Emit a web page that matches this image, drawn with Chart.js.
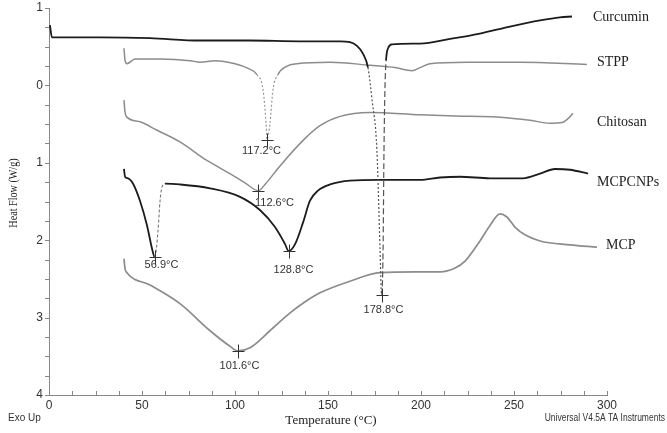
<!DOCTYPE html>
<html>
<head>
<meta charset="utf-8">
<script src="https://cdn.jsdelivr.net/npm/chart.js@4"></script>
<style>
  html, body { margin: 0; padding: 0; background: #fff; }
  #wrap { width: 667px; height: 433px; position: relative; }
</style>
</head>
<body>
<div id="wrap"><canvas id="c"></canvas></div>
<script>
// ---- data (Temperature °C, Heat Flow W/g) ----
const seriesNames = ['Curcumin', 'STPP', 'Chitosan', 'MCPCNPs', 'MCP'];

const curcuminT  = [0.5, 1.6, 5.9, 27.4, 54.3, 81.2, 108.1, 134.9, 156.5, 161.8, 165.6, 168.8, 171.5, 173.7, 176.3, 178.0, 178.8, 179.6, 180.1, 180.6, 181.2, 182.3, 184.4, 199.5, 215.6, 231.7, 247.8, 264.0, 274.7, 281.2];
const curcuminHF = [-0.78, -0.62, -0.62, -0.62, -0.61, -0.58, -0.58, -0.57, -0.57, -0.56, -0.51, -0.41, -0.23, 0.19, 0.84, 2.14, 2.71, 2.14, 0.84, 0.06, -0.32, -0.48, -0.53, -0.54, -0.60, -0.67, -0.76, -0.84, -0.88, -0.89];

const stppT  = [40.3, 40.9, 41.9, 46.2, 59.7, 75.8, 81.2, 89.2, 100.0, 107.0, 111.8, 115.1, 116.7, 117.2, 118.8, 120.4, 123.1, 128.0, 133.3, 151.1, 172.6, 186.0, 195.2, 199.5, 204.8, 224.7, 253.2, 289.2];
const stppHF = [-0.48, -0.32, -0.28, -0.34, -0.34, -0.32, -0.30, -0.32, -0.28, -0.22, -0.14, 0.06, 0.49, 0.70, 0.49, 0.06, -0.14, -0.25, -0.28, -0.30, -0.26, -0.23, -0.19, -0.23, -0.28, -0.30, -0.30, -0.27];

const chitosanT  = [40.3, 40.9, 41.9, 48.9, 58.1, 70.4, 84.9, 97.3, 105.4, 112.6, 116.1, 124.2, 136.6, 145.7, 156.5, 172.6, 199.5, 226.3, 242.5, 258.6, 269.4, 275.8, 279.0, 281.7];
const chitosanHF = [0.19, 0.35, 0.41, 0.47, 0.58, 0.73, 0.97, 1.14, 1.26, 1.36, 1.28, 1.04, 0.71, 0.52, 0.40, 0.35, 0.38, 0.40, 0.41, 0.45, 0.49, 0.48, 0.43, 0.36];

const mcpcnpsT  = [40.3, 40.9, 42.5, 45.2, 48.9, 52.7, 55.4, 56.9, 58.6, 59.7, 60.8, 62.4, 70.4, 86.6, 102.7, 113.4, 121.5, 126.9, 128.8, 132.3, 136.6, 140.3, 144.6, 151.1, 161.8, 178.0, 199.5, 210.2, 221.0, 237.1, 254.8, 264.0, 272.0, 280.1, 289.8];
const mcpcnpsHF = [1.08, 1.18, 1.20, 1.27, 1.49, 1.81, 2.11, 2.22, 1.88, 1.49, 1.31, 1.27, 1.28, 1.33, 1.44, 1.61, 1.83, 2.05, 2.14, 2.05, 1.77, 1.49, 1.36, 1.28, 1.23, 1.22, 1.22, 1.19, 1.18, 1.20, 1.20, 1.14, 1.08, 1.09, 1.14];

const mcpT  = [40.3, 40.9, 41.9, 54.3, 70.4, 86.6, 97.3, 101.6, 108.1, 118.8, 129.6, 138.7, 145.7, 161.8, 178.0, 197.8, 210.2, 218.3, 223.7, 231.7, 237.1, 242.5, 246.2, 250.5, 255.9, 264.0, 280.1, 294.6];
const mcpHF = [2.24, 2.37, 2.42, 2.58, 2.82, 3.17, 3.37, 3.43, 3.39, 3.17, 2.94, 2.78, 2.68, 2.53, 2.42, 2.41, 2.41, 2.36, 2.27, 2.01, 1.81, 1.66, 1.70, 1.83, 1.93, 2.01, 2.06, 2.09];

// peak annotations (Temperature, Heat Flow)
const peakT  = [117.2, 112.6, 56.9, 128.8, 178.8, 101.6];
const peakHF = [0.70, 1.36, 2.22, 2.14, 2.71, 3.43];

// axis ticks
const xTicks = [0, 50, 100, 150, 200, 250, 300];
const yTicks = [-1, 0, 1, 2, 3, 4];
const yTickLabels = ['1', '0', '1', '2', '3', '4'];

// ---- styling / layout (not data) ----
const peakLabelOffset = [[-6, 10], [16, 11], [6, 7], [4, 18], [1, 14], [1, 14]];
const seriesLabelPos = [[593, 17], [597, 62], [597, 122], [597, 182], [606, 245]];
const colors = ['#1c1c1c', '#8c8c8c', '#8c8c8c', '#1c1c1c', '#8c8c8c'];
const widths = [1.8, 1.5, 1.5, 1.8, 1.7];
// [fromIndex, toIndex, dash, colour, width]
const dashRanges = [
  [[12, 16, [2, 2], '#555', 1.2], [16, 20, [6, 3], '#555', 1.2]],
  [[10, 16, [2, 2], '#999', 1.2]],
  [],
  [[7, 11, [3, 2], '#777', 1.1]],
  []
];

const allT = [curcuminT, stppT, chitosanT, mcpcnpsT, mcpT];
const allHF = [curcuminHF, stppHF, chitosanHF, mcpcnpsHF, mcpHF];

function segStyle(i, idx) {
  for (const r of dashRanges[i]) {
    if (idx >= r[0] && idx < r[1]) return r;
  }
  return null;
}

const datasets = seriesNames.map((name, i) => ({
  label: name,
  data: allT[i].map((t, k) => ({ x: t, y: allHF[i][k] })),
  showLine: true,
  borderColor: colors[i],
  borderWidth: widths[i],
  pointRadius: 0,
  fill: false,
  cubicInterpolationMode: 'monotone',
  segment: {
    borderDash: ctx => { const r = segStyle(i, ctx.p0DataIndex); return r ? r[2] : undefined; },
    borderColor: ctx => { const r = segStyle(i, ctx.p0DataIndex); return r ? r[3] : undefined; },
    borderWidth: ctx => { const r = segStyle(i, ctx.p0DataIndex); return r ? r[4] : undefined; }
  }
}));

const overlay = {
  id: 'overlay',
  afterDraw(chart) {
    const { ctx, scales: { x, y } } = chart;
    ctx.save();
    // minor / major tick marks
    ctx.strokeStyle = '#888';
    ctx.lineWidth = 1;
    ctx.beginPath();
    for (let v = -1; v <= 4.0001; v += 0.25) {
      const py = Math.round(y.getPixelForValue(v)) + 0.5;
      ctx.moveTo(x.left - 4, py); ctx.lineTo(x.left, py);
    }
    for (let t = 0; t <= 300.001; t += 12.5) {
      const px = Math.round(x.getPixelForValue(t)) + 0.5;
      ctx.moveTo(px, y.bottom); ctx.lineTo(px, y.bottom - 4);
    }
    ctx.stroke();

    // peak crosses and labels
    ctx.strokeStyle = '#333';
    ctx.fillStyle = '#333';
    ctx.font = '11px "Liberation Sans", Arial, sans-serif';
    ctx.textAlign = 'center';
    ctx.textBaseline = 'middle';
    peakT.forEach((t, i) => {
      const px = Math.round(x.getPixelForValue(t)) + 0.5;
      const py = Math.round(y.getPixelForValue(peakHF[i])) + 0.5;
      ctx.beginPath();
      ctx.moveTo(px - 6, py); ctx.lineTo(px + 6, py);
      ctx.moveTo(px, py - 7); ctx.lineTo(px, py + 7);
      ctx.stroke();
      ctx.fillText(t.toFixed(1) + '°C', px + peakLabelOffset[i][0], py + peakLabelOffset[i][1]);
    });

    // series labels
    ctx.fillStyle = '#222';
    ctx.font = '14px "Liberation Serif", "Times New Roman", serif';
    ctx.textAlign = 'left';
    seriesNames.forEach((n, i) => {
      ctx.fillText(n, seriesLabelPos[i][0], seriesLabelPos[i][1]);
    });

    // axis titles
    ctx.font = '13px "Liberation Serif", "Times New Roman", serif';
    ctx.textAlign = 'center';
    ctx.fillText('Temperature (°C)', 331, 421);
    ctx.save();
    ctx.translate(14, 193);
    ctx.rotate(-Math.PI / 2);
    ctx.scale(0.78, 1);
    ctx.font = '13px "Liberation Serif", "Times New Roman", serif';
    ctx.fillText('Heat Flow (W/g)', 0, 0);
    ctx.restore();

    // footer texts
    ctx.fillStyle = '#333';
    ctx.textAlign = 'left';
    ctx.font = '10px "Liberation Sans", Arial, sans-serif';
    ctx.fillText('Exo Up', 8, 418);
    ctx.save();
    ctx.translate(665, 418);
    ctx.scale(0.85, 1);
    ctx.textAlign = 'right';
    ctx.fillText('Universal V4.5A TA Instruments', 0, 0);
    ctx.restore();
    ctx.restore();
  }
};

new Chart(document.getElementById('c'), {
  type: 'scatter',
  data: { datasets },
  options: {
    responsive: true,
    maintainAspectRatio: false,
    animation: false,
    layout: { padding: { top: 8, right: 60, left: 0, bottom: 0 } },
    plugins: { legend: { display: false }, tooltip: { enabled: false } },
    scales: {
      x: {
        type: 'linear',
        min: 0, max: 300,
        afterBuildTicks: s => { s.ticks = xTicks.map(v => ({ value: v })); },
        afterFit: s => { s.height = 38; s.paddingLeft = 0; s.paddingRight = 0; },
        grid: { display: false, drawTicks: false },
        border: { display: true, color: '#888', width: 1 },
        ticks: { padding: 3, color: '#333', font: { family: '"Liberation Sans", Arial, sans-serif', size: 12 }, maxRotation: 0 }
      },
      y: {
        type: 'linear',
        reverse: true,
        min: -1, max: 4,
        afterBuildTicks: s => { s.ticks = yTicks.map(v => ({ value: v })); },
        afterFit: s => { s.width = 49; s.paddingTop = 0; s.paddingBottom = 0; },
        grid: { display: false, drawTicks: false },
        border: { display: true, color: '#888', width: 1 },
        ticks: {
          padding: 6, color: '#333',
          font: { family: '"Liberation Sans", Arial, sans-serif', size: 12 },
          callback: v => { const k = yTicks.indexOf(v); return k >= 0 ? yTickLabels[k] : ''; }
        }
      }
    }
  },
  plugins: [overlay]
});
</script>
</body>
</html>
